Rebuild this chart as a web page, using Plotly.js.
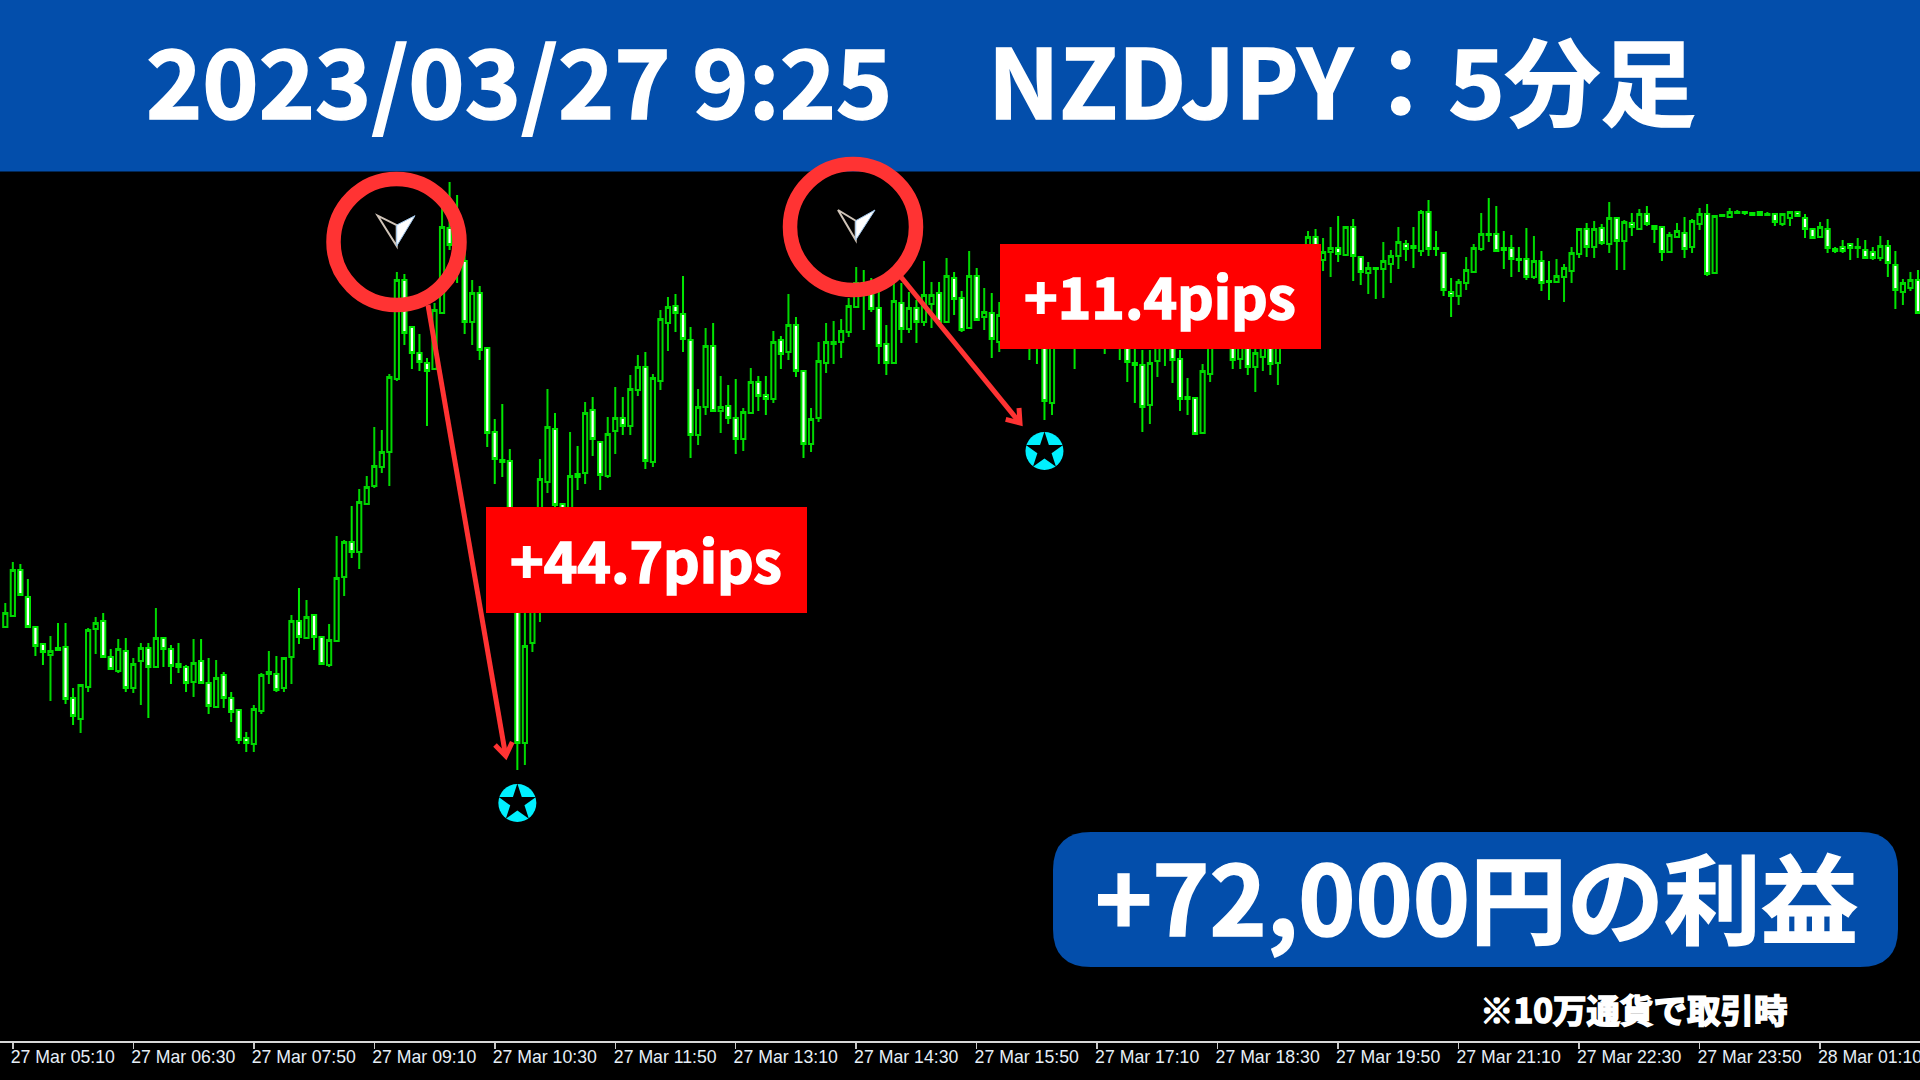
<!DOCTYPE html>
<html>
<head>
<meta charset="utf-8">
<script src="https://cdn.plot.ly/plotly-3.0.1.min.js"></script>
<style>html,body{margin:0;padding:0;background:#000;overflow:hidden}#chart{width:1920px;height:1080px}
.annotation-text{stroke:#fff;stroke-width:1.6px}</style>
</head>
<body>
<div id="chart"></div>
<script>
const openPrice=[82.373,82.384,82.430,82.403,82.373,82.356,82.345,82.352,82.353,82.302,
82.281,82.313,82.371,82.379,82.343,82.329,82.349,82.312,82.339,82.352,
82.333,82.362,82.351,82.336,82.333,82.318,82.339,82.317,82.293,82.325,
82.302,82.290,82.262,82.256,82.289,82.326,82.326,82.312,82.343,82.379,
82.362,82.385,82.363,82.335,82.359,82.423,82.458,82.448,82.496,82.514,
82.533,82.548,82.621,82.720,82.673,82.647,82.637,82.631,82.687,82.772,
82.760,82.739,82.678,82.707,82.652,82.568,82.540,82.539,82.460,82.257,
82.357,82.400,82.518,82.571,82.496,82.488,82.526,82.527,82.590,82.558,
82.524,82.569,82.582,82.574,82.610,82.633,82.538,82.619,82.677,82.694,
82.686,82.660,82.565,82.593,82.654,82.589,82.594,82.582,82.561,82.587,
82.618,82.605,82.601,82.660,82.648,82.675,82.629,82.556,82.582,82.637,
82.656,82.658,82.668,82.693,82.717,82.707,82.692,82.656,82.637,82.697,
82.671,82.692,82.678,82.696,82.707,82.678,82.722,82.702,82.672,82.724,
82.683,82.687,82.658,82.658,82.680,82.700,82.692,82.675,82.670,82.597,
82.700,82.670,82.685,82.682,82.694,82.700,82.710,82.695,82.682,82.670,
82.637,82.635,82.595,82.639,82.668,82.678,82.641,82.603,82.602,82.567,
82.626,82.665,82.660,82.668,82.641,82.664,82.633,82.643,82.665,82.637,
82.675,82.698,82.712,82.742,82.763,82.740,82.748,82.752,82.745,82.773,
82.743,82.727,82.732,82.731,82.736,82.744,82.756,82.754,82.749,82.788,
82.752,82.747,82.708,82.704,82.717,82.728,82.751,82.766,82.766,82.752,
82.752,82.741,82.741,82.723,82.739,82.719,82.718,82.723,82.729,82.746,
82.771,82.753,82.772,82.756,82.782,82.759,82.777,82.771,82.786,82.774,
82.773,82.748,82.763,82.767,82.753,82.776,82.786,82.727,82.784,82.783,
82.787,82.788,82.787,82.788,82.785,82.786,82.776,82.782,82.788,82.782,
82.771,82.763,82.771,82.751,82.753,82.756,82.752,82.750,82.748,82.742,
82.754,82.735,82.708,82.712,82.720];
const highPrice=[82.397,82.438,82.436,82.421,82.374,82.357,82.364,82.377,82.377,82.312,
82.315,82.372,82.383,82.387,82.351,82.361,82.362,82.342,82.357,82.357,
82.392,82.362,82.355,82.357,82.335,82.361,82.361,82.342,82.340,82.328,
82.308,82.291,82.268,82.295,82.327,82.349,82.344,82.343,82.385,82.412,
82.400,82.386,82.364,82.376,82.464,82.460,82.494,82.511,82.524,82.573,
82.570,82.626,82.728,82.726,82.673,82.666,82.642,82.697,82.793,82.818,
82.805,82.750,82.720,82.714,82.652,82.581,82.596,82.551,82.470,82.400,
82.450,82.541,82.611,82.587,82.496,82.568,82.554,82.598,82.603,82.559,
82.583,82.613,82.603,82.625,82.645,82.648,82.626,82.690,82.703,82.706,
82.724,82.673,82.611,82.672,82.677,82.624,82.615,82.621,82.592,82.632,
82.624,82.624,82.669,82.664,82.706,82.683,82.630,82.592,82.658,82.677,
82.679,82.681,82.702,82.733,82.730,82.722,82.718,82.675,82.717,82.717,
82.708,82.700,82.739,82.718,82.718,82.742,82.728,82.709,82.749,82.732,
82.712,82.707,82.698,82.700,82.710,82.720,82.715,82.710,82.680,82.710,
82.720,82.715,82.705,82.710,82.720,82.730,82.725,82.715,82.700,82.680,
82.660,82.650,82.650,82.690,82.700,82.695,82.650,82.622,82.603,82.636,
82.670,82.680,82.680,82.680,82.675,82.680,82.660,82.680,82.675,82.680,
82.710,82.730,82.750,82.769,82.771,82.762,82.773,82.784,82.773,82.781,
82.744,82.738,82.733,82.758,82.750,82.773,82.760,82.773,82.790,82.800,
82.769,82.748,82.722,82.721,82.743,82.756,82.787,82.802,82.794,82.769,
82.765,82.753,82.772,82.764,82.749,82.739,82.741,82.736,82.753,82.772,
82.777,82.779,82.776,82.798,82.782,82.780,82.787,82.791,82.794,82.775,
82.773,82.768,82.777,82.783,82.781,82.792,82.796,82.784,82.786,82.792,
82.790,82.788,82.788,82.788,82.788,82.787,82.786,82.788,82.788,82.786,
82.771,82.778,82.781,82.753,82.760,82.756,82.762,82.760,82.753,82.764,
82.760,82.749,82.721,82.728,82.730];
const lowPrice=[82.373,82.383,82.405,82.372,82.344,82.335,82.299,82.350,82.296,82.275,
82.267,82.308,82.346,82.343,82.330,82.327,82.308,82.307,82.295,82.282,
82.333,82.333,82.316,82.327,82.308,82.303,82.317,82.286,82.293,82.292,
82.278,82.256,82.248,82.248,82.286,82.316,82.308,82.308,82.316,82.356,
82.362,82.350,82.336,82.333,82.359,82.404,82.442,82.431,82.496,82.512,
82.527,82.514,82.619,82.655,82.631,82.629,82.574,82.631,82.687,82.750,
82.717,82.666,82.655,82.640,82.553,82.516,82.523,82.450,82.230,82.235,
82.348,82.378,82.507,82.493,82.480,82.485,82.510,82.516,82.544,82.510,
82.522,82.546,82.565,82.565,82.604,82.531,82.533,82.610,82.649,82.668,
82.648,82.542,82.555,82.585,82.589,82.567,82.576,82.546,82.549,82.587,
82.589,82.585,82.597,82.631,82.640,82.623,82.542,82.548,82.578,82.627,
82.636,82.642,82.663,82.693,82.670,82.688,82.636,82.625,82.637,82.657,
82.667,82.657,82.674,82.672,82.678,82.678,82.685,82.668,82.672,82.680,
82.670,82.642,82.648,82.652,82.655,82.660,82.640,82.636,82.580,82.585,
82.655,82.655,82.631,82.660,82.665,82.670,82.646,82.655,82.640,82.618,
82.597,82.568,82.576,82.623,82.634,82.617,82.589,82.585,82.565,82.567,
82.618,82.652,82.652,82.631,82.631,82.625,82.608,82.629,82.625,82.615,
82.655,82.680,82.690,82.710,82.725,82.729,82.723,82.738,82.744,82.719,
82.715,82.706,82.701,82.702,82.717,82.731,82.739,82.732,82.744,82.744,
82.744,82.704,82.683,82.695,82.710,82.728,82.749,82.758,82.749,82.731,
82.723,82.728,82.720,82.721,82.709,82.700,82.717,82.698,82.717,82.742,
82.743,82.742,82.755,82.747,82.730,82.730,82.764,82.770,82.774,82.757,
82.739,82.748,82.763,82.742,82.747,82.770,82.724,82.727,82.783,82.783,
82.787,82.785,82.785,82.785,82.785,82.774,82.774,82.774,82.784,82.762,
82.761,82.762,82.747,82.747,82.747,82.740,82.742,82.742,82.740,82.739,
82.723,82.691,82.695,82.709,82.686];
const closePrice=[82.387,82.430,82.405,82.373,82.354,82.348,82.349,82.350,82.301,82.284,
82.315,82.370,82.377,82.343,82.331,82.351,82.312,82.336,82.352,82.333,
82.362,82.351,82.334,82.333,82.317,82.337,82.317,82.294,82.322,82.302,
82.288,82.260,82.257,82.291,82.325,82.328,82.310,82.342,82.379,82.363,
82.383,82.363,82.336,82.360,82.422,82.458,82.448,82.498,82.513,82.534,
82.548,82.623,82.720,82.667,82.647,82.638,82.629,82.690,82.773,82.755,
82.738,82.678,82.707,82.650,82.567,82.541,82.538,82.460,82.257,82.354,
82.400,82.521,82.573,82.495,82.488,82.524,82.523,82.587,82.561,82.525,
82.566,82.582,82.574,82.611,82.633,82.539,82.622,82.681,82.693,82.687,
82.661,82.565,82.593,82.654,82.589,82.593,82.582,82.561,82.588,82.618,
82.604,82.601,82.658,82.646,82.675,82.629,82.556,82.581,82.639,82.658,
82.658,82.669,82.694,82.717,82.705,82.691,82.654,82.637,82.699,82.671,
82.692,82.678,82.705,82.705,82.678,82.724,82.701,82.670,82.724,82.680,
82.688,82.661,82.685,82.680,82.695,82.690,82.670,82.665,82.599,82.700,
82.670,82.685,82.680,82.695,82.702,82.712,82.690,82.680,82.670,82.638,
82.635,82.593,82.637,82.670,82.678,82.640,82.601,82.601,82.566,82.629,
82.655,82.655,82.670,82.640,82.665,82.633,82.647,82.665,82.636,82.665,
82.700,82.715,82.732,82.763,82.742,82.748,82.752,82.746,82.773,82.744,
82.728,82.732,82.731,82.739,82.744,82.758,82.751,82.752,82.788,82.751,
82.751,82.710,82.704,82.718,82.730,82.752,82.766,82.765,82.749,82.750,
82.741,82.740,82.723,82.739,82.717,82.718,82.724,82.732,82.747,82.771,
82.753,82.771,82.757,82.782,82.759,82.778,82.773,82.786,82.776,82.771,
82.748,82.765,82.769,82.751,82.779,82.786,82.726,82.784,82.785,82.788,
82.788,82.787,82.785,82.785,82.786,82.778,82.786,82.788,82.784,82.771,
82.762,82.773,82.752,82.749,82.749,82.752,82.753,82.742,82.742,82.754,
82.737,82.710,82.717,82.720,82.687];
const tickIndex=[1,17,33,49,65,81,97,113,129,145,161,177,193,209,225,241];
const tickLabels=["27 Mar 05:10","27 Mar 06:30","27 Mar 07:50","27 Mar 09:10","27 Mar 10:30","27 Mar 11:50","27 Mar 13:10","27 Mar 14:30","27 Mar 15:50","27 Mar 17:10","27 Mar 18:30","27 Mar 19:50","27 Mar 21:10","27 Mar 22:30","27 Mar 23:50","28 Mar 01:10"];
const exitIndex=[68,138];
const exitPrice=[82.197,82.549];
const headline="2023/03/27 9:25　NZDJPY：5分足";
const profitLabels=["+44.7pips","+11.4pips"];
const totalLabel="+72,000円の利益";
const noteLabel="※10万通貨で取引時";

const W=1920, PH=1041;
const X=p=>p/W, Y=p=>1-p/PH;
const pth=(pts,close)=>pts.map((q,i)=>(i?'L':'M')+X(q[0]).toFixed(5)+','+Y(q[1]).toFixed(5)).join(' ')+(close?' Z':'');
const BLUE='#034EAB', RING='#FF3333', CJK='"Noto Sans CJK JP","Noto Sans",sans-serif';
const box=(x0,y0,x1,y1,fill)=>({type:'rect',xref:'paper',yref:'paper',x0:X(x0),x1:X(x1),y0:Y(y1),y1:Y(y0),fillcolor:fill,line:{width:0},layer:'above'});
const ring=(cx,cy)=>({type:'circle',xref:'paper',yref:'paper',x0:X(cx-63),x1:X(cx+63),y0:Y(cy+63),y1:Y(cy-63),fillcolor:'rgba(0,0,0,0)',line:{color:RING,width:14.5},layer:'above'});
const stroke=(pts)=>({type:'path',xref:'paper',yref:'paper',path:pth(pts),fillcolor:'rgba(0,0,0,0)',line:{color:RING,width:5},layer:'above'});
function glyph(l,b,r,n){return [
 {type:'path',xref:'paper',yref:'paper',path:pth([l,b,n],true),fillcolor:'#000',line:{color:'#d0c4b8',width:2},layer:'above'},
 {type:'path',xref:'paper',yref:'paper',path:pth([r,b,n],true),fillcolor:'#fff',line:{color:'#9fc4e8',width:1},layer:'above'}];}
function rounded(x0,y0,x1,y1,r,fill){
 const q=(a,b)=>`Q${X(a).toFixed(5)},${Y(b).toFixed(5)} `;
 const l=(a,b)=>`L${X(a).toFixed(5)},${Y(b).toFixed(5)} `;
 const p=`M${X(x0+r).toFixed(5)},${Y(y0).toFixed(5)} `+l(x1-r,y0)+q(x1,y0)+`${X(x1).toFixed(5)},${Y(y0+r).toFixed(5)} `+l(x1,y1-r)+q(x1,y1)+`${X(x1-r).toFixed(5)},${Y(y1).toFixed(5)} `+l(x0+r,y1)+q(x0,y1)+`${X(x0).toFixed(5)},${Y(y1-r).toFixed(5)} `+l(x0,y0+r)+q(x0,y0)+`${X(x0+r).toFixed(5)},${Y(y0).toFixed(5)} Z`;
 return {type:'path',xref:'paper',yref:'paper',path:p,fillcolor:fill,line:{width:0},layer:'above'};
}
const text=(t,x,y,size)=>({xref:'paper',yref:'paper',x:X(x),y:Y(y),text:t,showarrow:false,xanchor:'center',yanchor:'middle',font:{family:CJK,size:size,color:'#fff',weight:700}});

const candles={type:'candlestick',x:openPrice.map((_,i)=>i),open:openPrice,high:highPrice,low:lowPrice,close:closePrice,
 increasing:{line:{color:'#00D800',width:2},fillcolor:'#000000'},
 decreasing:{line:{color:'#00E800',width:2},fillcolor:'#FFFFFF'},
 whiskerwidth:0,hoverinfo:'skip',showlegend:false};
const exitDisc={type:'scatter',mode:'markers',x:exitIndex,y:exitPrice,marker:{symbol:'circle',size:38,color:'#00F0FF'},hoverinfo:'skip',showlegend:false};
const exitStar={type:'scatter',mode:'markers',x:exitIndex,y:exitPrice,marker:{symbol:'star',size:28,color:'#000'},hoverinfo:'skip',showlegend:false};

const layout={width:1920,height:1080,margin:{l:0,r:0,t:0,b:39},paper_bgcolor:'#000',plot_bgcolor:'#000',showlegend:false,
 boxmode:'group',boxgap:0.44,boxgroupgap:0,
 xaxis:{type:'linear',range:[-0.704,254.27],rangeslider:{visible:false},showgrid:false,zeroline:false,showline:true,linecolor:'#D8D8D8',linewidth:2,
  tickmode:'array',tickvals:tickIndex,ticktext:tickLabels,ticks:'outside',ticklen:6,tickwidth:1.5,tickcolor:'#C8C8C8',ticklabelshift:50,ticklabelstandoff:-7,ticklabeloverflow:'allow',
  tickangle:0,tickfont:{family:'"Liberation Sans Narrow","Liberation Sans",sans-serif',size:17.7,color:'#E6EEF6'}},
 yaxis:{range:[81.959,83.000],showgrid:false,zeroline:false,showticklabels:false,ticks:'',showline:true,linecolor:'#666',linewidth:1},
 shapes:[
  box(0,0,1920,171.5,BLUE),
  ring(396.5,242),ring(853,227),
  stroke([[428,305],[505.7,756]]),stroke([[495,745],[505.7,756],[512.3,742]]),
  stroke([[901,277],[1020,423]]),stroke([[1005.7,419.3],[1020,423],[1019,408]]),
  ...glyph([377.7,215.7],[396.7,246],[415,215.7],[396.7,225]),
  ...glyph([838,210],[855.7,240],[875,210],[855.7,220.7]),
  box(486,507,807,613,'#FF0000'),box(1000,244,1321,349,'#FF0000'),
  rounded(1053,832,1898,967,38,BLUE)
 ],
 annotations:[
  text(headline,920.5,78,95.5),
  text(profitLabels[0],646,558,57),
  text(profitLabels[1],1160,294,57),
  text(totalLabel,1476,893,97),
  text(noteLabel,1634,1008,33.5)
 ]};
Plotly.newPlot('chart',[candles,exitDisc,exitStar],layout,{staticPlot:true,displayModeBar:false});
</script>
</body>
</html>
